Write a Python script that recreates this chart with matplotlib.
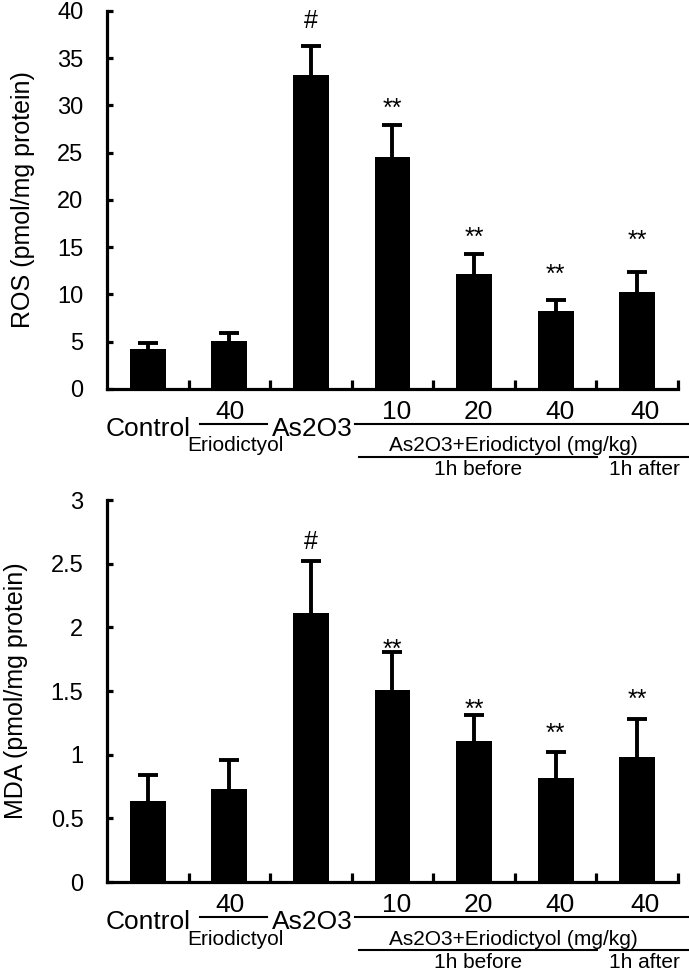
import numpy as np
import matplotlib.pyplot as plt
import matplotlib.transforms as mtransforms

plt.rcParams['font.family'] = ['Liberation Sans', 'DejaVu Sans']

# data
groups = ['Control', 'Eriodictyol 40', 'As2O3', 'As2O3+E 10', 'As2O3+E 20', 'As2O3+E 40', 'As2O3+E 40 after']
ros_mean = [4.25, 5.1, 33.2, 24.6, 12.2, 8.2, 10.3]
ros_top = [4.85, 5.9, 36.3, 27.9, 14.3, 9.4, 12.4]
mda_mean = [0.64, 0.73, 2.11, 1.51, 1.11, 0.82, 0.98]
mda_top = [0.84, 0.96, 2.52, 1.81, 1.31, 1.02, 1.28]
# significance marks and where they sit (value units)
marks = ['', '', '#', '**', '**', '**', '**']
ros_mark_y = [0, 0, 39.2, 30.4, 16.8, 12.9, 16.5]
mda_mark_y = [0, 0, 2.69, 1.88, 1.41, 1.22, 1.49]

# labels under the x axis: (text, x, offset below axis in pt, size)
under_labels = [('Control', 0.50, 28.5, 19), ('40', 1.51, 16.5, 19), ('Eriodictyol', 1.58, 41, 15),
                ('As2O3', 2.52, 28.5, 19), ('10', 3.55, 16.5, 19), ('20', 4.55, 16.5, 19),
                ('40', 5.55, 16.5, 19), ('40', 6.59, 16.5, 19),
                ('As2O3+Eriodictyol (mg/kg)', 4.98, 41, 15),
                ('1h before', 4.55, 58, 15), ('1h after', 6.59, 58, 15)]
# lines under the axis: (x0, x1, offset pt)
under_lines = [(1.14, 1.96, 25), (3.04, 7.12, 25), (3.09, 6.01, 49), (6.17, 7.14, 49)]


def draw_panel(ax, mean, top, mark_y, ymax, yticks, yticklabels, ylabel):
    x = np.arange(len(mean)) + 0.5
    err = np.array(top) - np.array(mean)
    ax.bar(x, mean, width=0.44, color='black', zorder=2)
    # upper error bars only
    eb = ax.errorbar(x, mean, yerr=[np.zeros(len(mean)), err], fmt='none', ecolor='black',
                     elinewidth=2.8, capsize=7, capthick=2.8, zorder=1)
    eb[1][0].set_visible(False)
    for xi, m, my in zip(x, marks, mark_y):
        if m == '#':
            ax.annotate(m, (xi, my), xytext=(0, -6.5), textcoords='offset points',
                        ha='center', va='baseline', fontsize=18)
        elif m:
            ax.annotate(m, (xi, my), xytext=(0, -10.5), textcoords='offset points',
                        ha='center', va='baseline', fontsize=18)

    ax.set_xlim(0, 7)
    ax.set_ylim(0, ymax)
    ax.spines['top'].set_visible(False)
    ax.spines['right'].set_visible(False)
    ax.spines['left'].set_linewidth(2.3)
    ax.spines['bottom'].set_linewidth(2.3)
    ax.set_xticks(range(1, 8))
    ax.set_xticklabels([])
    ax.tick_params(axis='x', direction='in', length=6.5, width=2.3)
    ax.set_yticks(yticks)
    ax.set_yticklabels(yticklabels)
    ax.tick_params(axis='y', direction='in', length=4.5, width=2.3, labelsize=17, pad=17)
    ax.set_ylabel(ylabel, fontsize=18, labelpad=16)

    # group labels below the axis
    for txt, xt, off, fs in under_labels:
        ax.annotate(txt, (xt, 0), xycoords=('data', 'axes fraction'), xytext=(0, -off),
                    textcoords='offset points', ha='center', va='center', fontsize=fs)
    for x0, x1, off in under_lines:
        tr = ax.get_xaxis_transform() + mtransforms.ScaledTranslation(0, -off / 72, ax.figure.dpi_scale_trans)
        ax.plot([x0, x1], [0, 0], color='black', lw=1.5, transform=tr, clip_on=False)


fig = plt.figure(figsize=(6.89, 9.71), dpi=100)
ax1 = fig.add_axes([0.1553, 0.5994, 0.8287, 0.3893])
ax2 = fig.add_axes([0.1553, 0.0916, 0.8287, 0.3934])

draw_panel(ax1, ros_mean, ros_top, ros_mark_y, 40, range(0, 41, 5),
           [str(v) for v in range(0, 41, 5)], 'ROS (pmol/mg protein)')
draw_panel(ax2, mda_mean, mda_top, mda_mark_y, 3, np.arange(0, 3.01, 0.5),
           ['0', '0.5', '1', '1.5', '2', '2.5', '3'], 'MDA (pmol/mg protein)')

fig.savefig('out.png', dpi=100)
